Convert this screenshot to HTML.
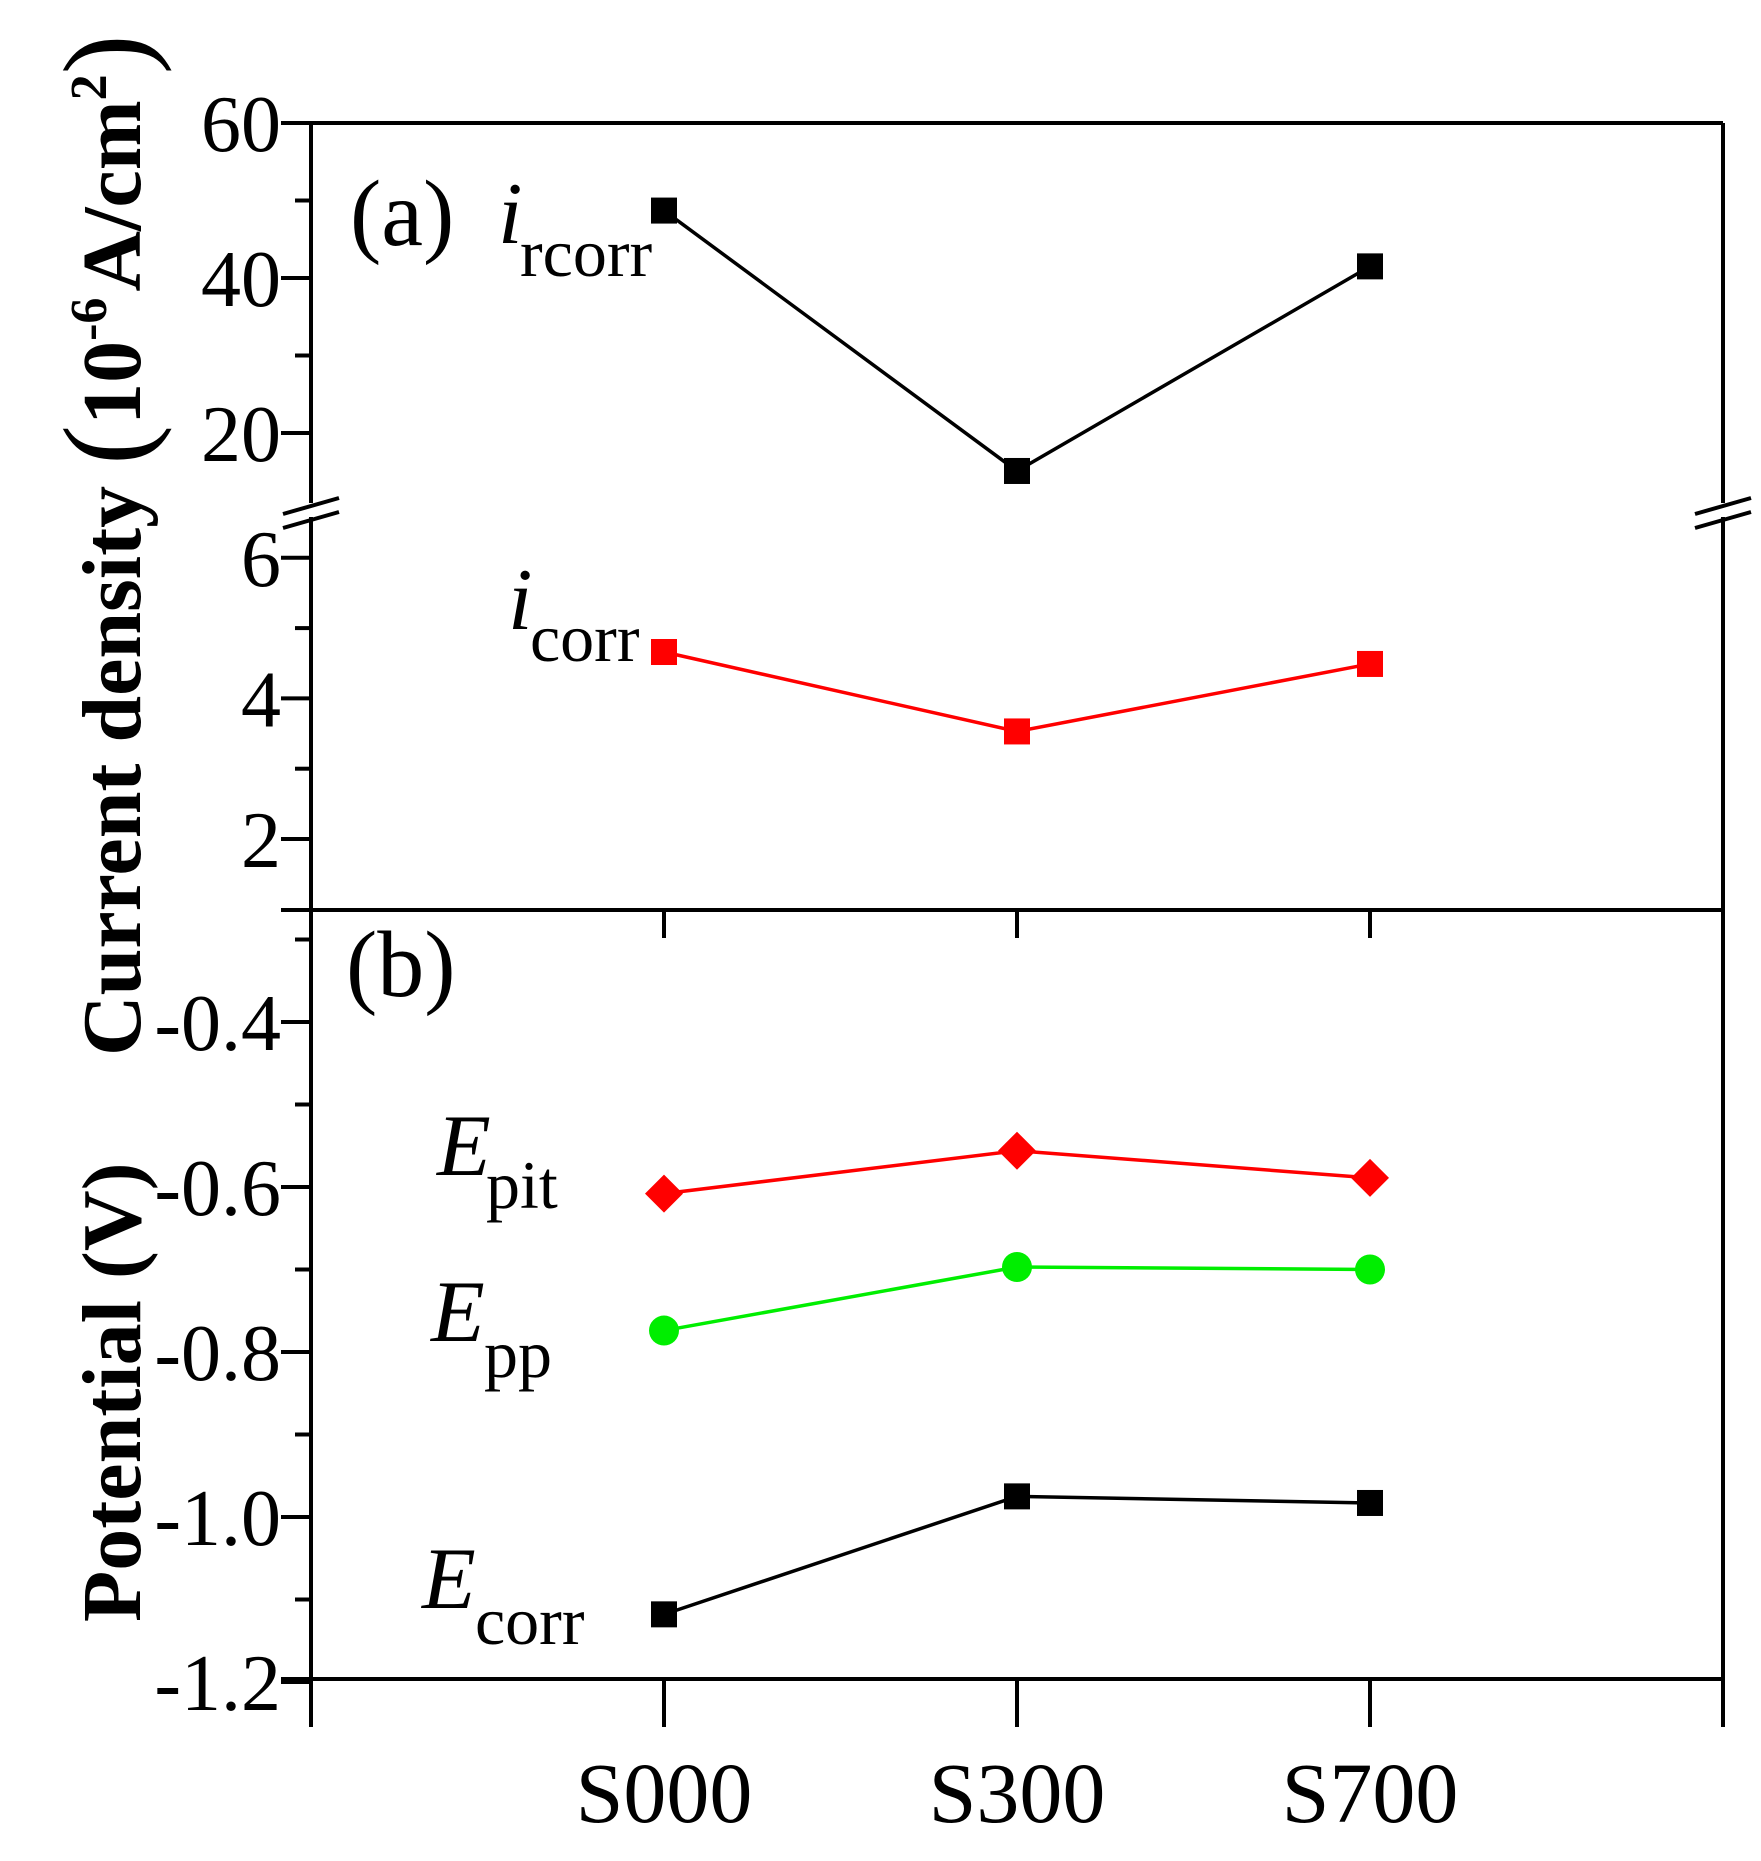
<!DOCTYPE html>
<html><head><meta charset="utf-8"><style>
html,body{margin:0;padding:0;background:#fff}
svg{display:block;font-family:"Liberation Serif","DejaVu Serif",serif}
</style></head><body>
<svg id="chart" width="1761" height="1861" viewBox="0 0 1761 1861" xmlns="http://www.w3.org/2000/svg">
<g id="axes"></g>
<g id="marks"></g>
<g id="labels">
<text x="350" y="245" font-size="94">(a)</text>
<text x="346" y="996" font-size="94">(b)</text>
<text x="498" y="243" font-size="88" font-style="italic">i</text>
<text x="520" y="276" font-size="68">rcorr</text>
<text x="508" y="629" font-size="88" font-style="italic">i</text>
<text x="530" y="661" font-size="68">corr</text>
<text x="437" y="1175" font-size="88" font-style="italic">E</text>
<text x="486" y="1208" font-size="68">pit</text>
<text x="431" y="1341" font-size="88" font-style="italic">E</text>
<text x="484" y="1377" font-size="68">pp</text>
<text x="422" y="1608" font-size="88" font-style="italic">E</text>
<text x="475" y="1644" font-size="68">corr</text>
<text transform="translate(140,1056) rotate(-90)" font-size="84" font-weight="bold">Current density <tspan font-size="120" font-weight="normal" dy="6">(</tspan><tspan dy="-6">10</tspan><tspan font-size="52" dy="-34">-6</tspan><tspan dx="6" dy="34">A/cm</tspan><tspan font-size="52" dy="-34">2</tspan><tspan font-size="120" font-weight="normal" dy="40">)</tspan></text>
<text transform="translate(140,1622) rotate(-90)" font-size="84" font-weight="bold">Potential (V)</text>
</g>
</svg>
<script>
const categories = ["S000","S300","S700"];
const irc = [48.7, 15.1, 41.5];
const icorr = [4.66, 3.53, 4.49];
const epit = [-0.608, -0.556, -0.589];
const epp = [-0.774, -0.697, -0.700];
const ecorr = [-1.118, -0.975, -0.983];
const upperTicks = [60, 40, 20];
const lowerTicks = [6, 4, 2];
const potTicks = [-0.4, -0.6, -0.8, -1.0, -1.2];
const potTickLabels = ["-0.4","-0.6","-0.8","-1.0","-1.2"];

const NS = "http://www.w3.org/2000/svg";
const L = 311, R = 1723, T = 123, B = 1679, MID = 910, BRK = 513;
const x = i => L + (i + 1) * (R - L) / 4;
const yUp = v => 123 + (60 - v) * 155 / 20;
const yLo = v => 839 - (v - 2) * 70.3;
const yPot = v => 1022 + (-0.4 - v) * 825;

function mk(tag, attrs, parent) {
  const e = document.createElementNS(NS, tag);
  for (const k in attrs) e.setAttribute(k, attrs[k]);
  parent.appendChild(e);
  return e;
}
const axes = document.getElementById("axes");
const marks = document.getElementById("marks");
const sw = 4;
let e;
e = mk("line", {x1: L, y1: T, x2: R, y2: T, stroke: "#000", "stroke-width": sw}, axes);


e = mk("line", {x1: L - 30, y1: B, x2: R, y2: B, stroke: "#000", "stroke-width": sw}, axes);


e = mk("line", {x1: L - 30, y1: MID, x2: R, y2: MID, stroke: "#000", "stroke-width": sw}, axes);


[L, R].forEach(xx => {
  e = mk("line", {x1: xx, y1: T, x2: xx, y2: BRK - 10, stroke: "#000", "stroke-width": sw}, axes);
  
  
  e = mk("line", {x1: xx, y1: BRK + 4, x2: xx, y2: B + 48, stroke: "#000", "stroke-width": sw}, axes);
  
  
  [-7, 7].forEach(d => {
    e = mk("line", {x1: xx - 28, y1: BRK + d + 8, x2: xx + 28, y2: BRK + d - 8, stroke: "#000", "stroke-width": 4}, axes);
    
    
  });
});
for (let i = -1; i <= 3; i++) {
  e = mk("line", {x1: x(i), y1: B, x2: x(i), y2: B + 48, stroke: "#000", "stroke-width": sw}, axes);
  
  
}
categories.forEach((c, i) => {
  e = mk("line", {x1: x(i), y1: MID, x2: x(i), y2: MID + 28, stroke: "#000", "stroke-width": sw}, axes);
  
  
  e = mk("text", {x: x(i), y: 1822, "font-size": 86, "text-anchor": "middle"}, axes);
  e.textContent = c;
  
  
});
function ytick(yy, label, major) {
  e = mk("line", {x1: major ? L - 30 : L - 16, y1: yy, x2: L, y2: yy, stroke: "#000", "stroke-width": sw}, axes);
  
  
  if (label !== null) {
    e = mk("text", {x: L - 30, y: yy + 28, "font-size": 80, "text-anchor": "end"}, axes);
    e.textContent = label;
    
    
  }
}
upperTicks.forEach(v => ytick(yUp(v), String(v), true));
[50, 30].forEach(v => ytick(yUp(v), null, false));
lowerTicks.forEach(v => ytick(yLo(v), String(v), true));
[5, 3].forEach(v => ytick(yLo(v), null, false));
potTicks.forEach((v, i) => ytick(yPot(v), potTickLabels[i], true));
[-0.3, -0.5, -0.7, -0.9, -1.1].forEach(v => ytick(yPot(v), null, false));

function series(vals, yf, color, shape, name) {
  const pts = vals.map((v, i) => [x(i), yf(v)]);
  e = mk("polyline", {points: pts.map(p => p.join(",")).join(" "), fill: "none", stroke: color, "stroke-width": 3.5}, marks);
  
  
  pts.forEach(p => {
    if (shape === "sq") e = mk("rect", {x: p[0] - 13, y: p[1] - 13, width: 26, height: 26, fill: color}, marks);
    else if (shape === "ci") e = mk("circle", {cx: p[0], cy: p[1], r: 15, fill: color}, marks);
    else e = mk("polygon", {points: `${p[0]},${p[1]-19} ${p[0]+19},${p[1]} ${p[0]},${p[1]+19} ${p[0]-19},${p[1]}`, fill: color}, marks);
    
    
  });
}
series(irc, yUp, "#000", "sq", "irc");
series(icorr, yLo, "#ff0000", "sq", "icorr");
series(epit, yPot, "#ff0000", "di", "epit");
series(epp, yPot, "#00ee00", "ci", "epp");
series(ecorr, yPot, "#000", "sq", "ecorr");
</script>
</body></html>
